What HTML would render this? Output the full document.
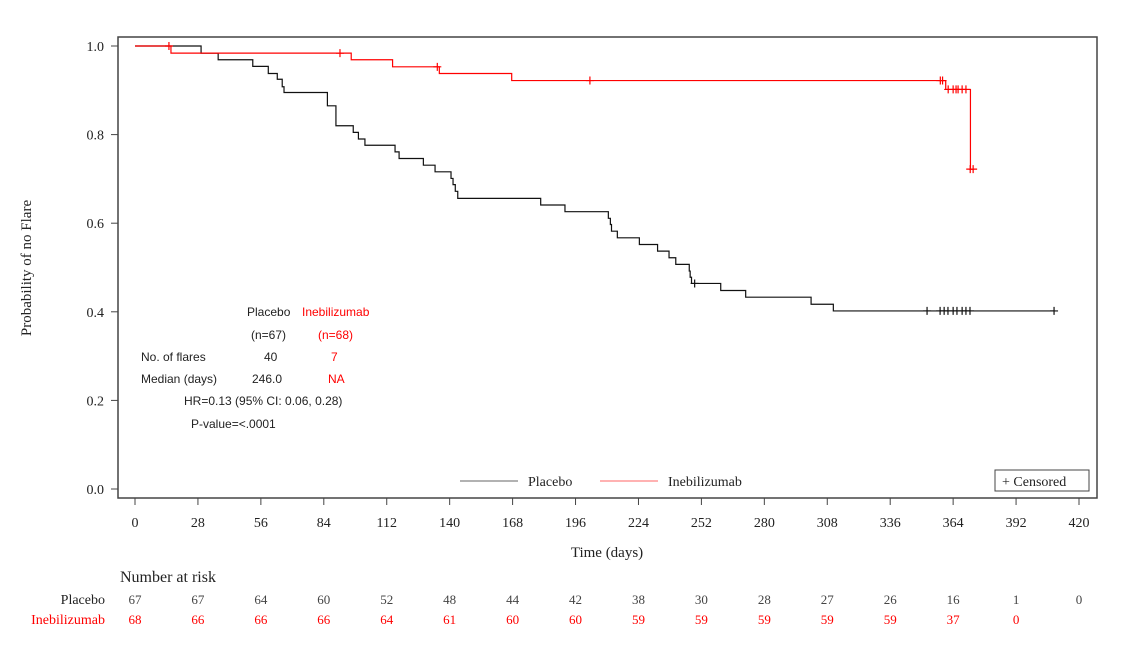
<!DOCTYPE html>
<html><head><meta charset="utf-8"><style>
body{margin:0;background:#fff}
svg{display:block}
.s{font-family:"Liberation Serif",serif;font-size:14px;fill:#222}
.a{font-family:"Liberation Sans",sans-serif;font-size:12px;fill:#222}
</style></head><body>
<svg id="c" width="1147" height="659">
<g id="g"></g>
</svg>
<script>
const xTicks=[0,28,56,84,112,140,168,196,224,252,280,308,336,364,392,420];
const yTicks=[0,0.2,0.4,0.6,0.8,1.0];
const placeboT=[0,29.4,37,52.4,59.3,63.3,65.5,66.3,85.6,89.4,97.1,99.4,102.3,115.7,117.5,128.3,133.5,140.6,141.5,142.5,143.6,180.5,191.3,210.6,211.5,212,214.6,224.4,232.5,237.6,240.6,246.6,247,247.6,260.6,271.7,300.8,310.7,408.9];
const placeboS=[1,0.984,0.969,0.954,0.938,0.925,0.908,0.895,0.865,0.820,0.805,0.790,0.776,0.761,0.746,0.731,0.716,0.701,0.687,0.672,0.656,0.641,0.626,0.611,0.597,0.582,0.567,0.552,0.537,0.522,0.507,0.492,0.478,0.464,0.448,0.433,0.417,0.402,0.402];
const placeboCensT=[249,352.4,358.2,360,361.7,364,365.7,368,369.7,371.5,408.9];
const placeboCensS=[0.464,0.402,0.402,0.402,0.402,0.402,0.402,0.402,0.402,0.402,0.402];
const inebT=[0,16,96.2,114.6,135.4,167.6,360.7,371.7,372.9];
const inebS=[1,0.984,0.969,0.953,0.938,0.922,0.902,0.722,0.722];
const inebCensT=[15.1,91.2,134.5,202.4,358.3,359.3,361.8,364,365.3,366.2,368,369.7,371.6,372.9];
const inebCensS=[1,0.984,0.953,0.922,0.922,0.922,0.902,0.902,0.902,0.902,0.902,0.902,0.722,0.722];
const riskPlacebo=[67,67,64,60,52,48,44,42,38,30,28,27,26,16,1,0];
const riskIneb=[68,66,66,66,64,61,60,60,59,59,59,59,59,37,0];

const NS="http://www.w3.org/2000/svg";
const g=document.getElementById('g');
const X=d=>135+d*(1079-135)/420;
const Y=p=>489-p*443;
function el(t,at,txt){const e=document.createElementNS(NS,t);for(const k in at)e.setAttribute(k,at[k]);if(txt!==undefined)e.textContent=txt;g.appendChild(e);return e;}
// frame
let f=el('rect',{x:118,y:37,width:979,height:461,fill:'none',stroke:'#444','stroke-width':1.5});


xTicks.forEach(t=>{
 let l=el('line',{x1:X(t),x2:X(t),y1:498,y2:505,stroke:'#444'});
 
 
 let tx=el('text',{x:X(t),y:527,'text-anchor':'middle',class:'s'},t);
 
 
});
yTicks.forEach(t=>{
 let l=el('line',{x1:111,x2:118,y1:Y(t),y2:Y(t),stroke:'#444'});
 
 
 let tx=el('text',{x:104,y:Y(t)+5,'text-anchor':'end',class:'s'},t.toFixed(1));
 
 
});
let yt=el('text',{x:0,y:0,transform:'translate(31,268) rotate(-90)','text-anchor':'middle',class:'s',style:'font-size:15px'},'Probability of no Flare');


let xt=el('text',{x:607,y:557,'text-anchor':'middle',class:'s',style:'font-size:15px'},'Time (days)');


function step(T,S,col,name){
 let d='M'+X(T[0])+' '+Y(S[0]);
 for(let i=1;i<T.length;i++){d+=' H'+X(T[i])+' V'+Y(S[i]);}
 let p=el('path',{d:d,fill:'none',stroke:col,'stroke-width':1.2});
 
 
}
function cens(T,S,col,name){
 T.forEach((t,i)=>{let x=X(t),y=Y(S[i]);
  let p=el('path',{d:`M${x-4} ${y}H${x+4}M${x} ${y-4}V${y+4}`,stroke:col,'stroke-width':1.2});
  
  });
}
step(placeboT,placeboS,'#111','placebo-curve');
step(inebT,inebS,'#f00','inebilizumab-curve');
cens(placeboCensT,placeboCensS,'#111','placebo-censor');
cens(inebCensT,inebCensS,'#f00','inebilizumab-censor');
// legend
let l1=el('line',{x1:460,x2:518,y1:481,y2:481,stroke:'#999','stroke-width':1.5});


let t1=el('text',{x:528,y:486,class:'s'},'Placebo');


let l2=el('line',{x1:600,x2:658,y1:481,y2:481,stroke:'#f99','stroke-width':1.5});


let t2=el('text',{x:668,y:486,class:'s'},'Inebilizumab');


let cb=el('rect',{x:995,y:470,width:94,height:21,fill:'#fff',stroke:'#444'});


let ct=el('text',{x:1002,y:486,class:'s'},'+  Censored');


// stats
const stats=[[247,316,'Placebo','#222'],[302,316,'Inebilizumab','#f00'],[251,339,'(n=67)','#222'],[318,339,'(n=68)','#f00'],[141,361,'No. of flares','#222'],[264,361,'40','#222'],[331,361,'7','#f00'],[141,383,'Median (days)','#222'],[252,383,'246.0','#222'],[328,383,'NA','#f00'],[184,405,'HR=0.13 (95% CI: 0.06, 0.28)','#222'],[191,428,'P-value=<.0001','#222']];
stats.forEach(s=>{let t=el('text',{x:s[0],y:s[1],class:'a',fill:s[3],style:'fill:'+s[3]},s[2]);
 
 });
// risk table
let nr=el('text',{x:120,y:582,class:'s',style:'font-size:16px'},'Number at risk');


let rp=el('text',{x:105,y:604,'text-anchor':'end',class:'s'},'Placebo');


let ri=el('text',{x:105,y:624,'text-anchor':'end',class:'s',style:'fill:#f00'},'Inebilizumab');


riskPlacebo.forEach((v,i)=>{let t=el('text',{x:X(xTicks[i]),y:604,'text-anchor':'middle',class:'s',style:'font-size:13px;fill:#444'},v);
 
 });
riskIneb.forEach((v,i)=>{let t=el('text',{x:X(xTicks[i]),y:624,'text-anchor':'middle',class:'s',style:'font-size:13px;fill:#f00'},v);
 
 });
</script>
</body></html>
